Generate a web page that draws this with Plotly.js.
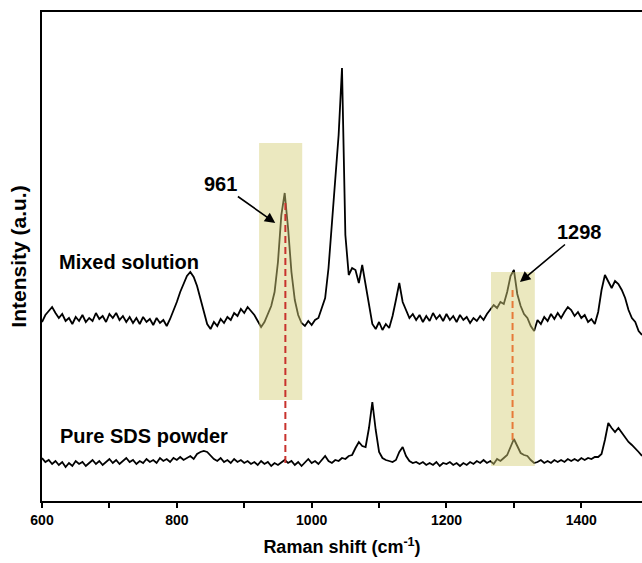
<!DOCTYPE html>
<html>
<head>
<meta charset="utf-8">
<script src="https://cdn.plot.ly/plotly-3.0.1.min.js"></script>
<style>
  html, body { margin: 0; padding: 0; background: #ffffff; }
  #chart { width: 642px; height: 563px; }
</style>
</head>
<body>
<div id="chart"></div>
<script>
// Raman shift (cm-1)
const ramanShift = [
  600,605,610,615,620,625,630,635,640,645,650,655,660,665,670,675,680,685,690,695,
  700,705,710,715,720,725,730,735,740,745,750,755,760,765,770,775,780,785,790,795,
  800,805,810,815,820,825,830,835,840,845,850,855,860,865,870,875,880,885,890,895,
  900,905,910,915,920,925,930,935,940,945,950,955,960,965,970,975,980,985,990,995,
  1000,1005,1010,1015,1020,1025,1030,1035,1040,1045,1050,1055,1060,1065,1070,1075,1080,1085,1090,1095,
  1100,1105,1110,1115,1120,1125,1130,1135,1140,1145,1150,1155,1160,1165,1170,1175,1180,1185,1190,1195,
  1200,1205,1210,1215,1220,1225,1230,1235,1240,1245,1250,1255,1260,1265,1270,1275,1280,1285,1290,1295,
  1300,1305,1310,1315,1320,1325,1330,1335,1340,1345,1350,1355,1360,1365,1370,1375,1380,1385,1390,1395,
  1400,1405,1410,1415,1420,1425,1430,1435,1440,1445,1450,1455,1460,1465,1470,1475,1480,1485,1490
];

// Intensity (a.u., offset) – Mixed solution
const mixedSolution = [
  179,186,190,194,188,183,187,180,183,177,184,180,186,179,183,180,188,182,185,179,
  187,183,188,181,185,179,184,178,183,177,184,179,182,176,183,178,181,175,182,190,
  199,209,218,225,229,224,215,203,189,177,172,179,175,182,178,184,181,188,185,192,
  188,194,190,186,180,174,179,187,195,209,239,286,308,273,229,201,186,178,175,180,
  176,181,183,193,203,233,276,321,366,433,266,226,233,231,218,236,216,193,177,172,
  179,171,177,173,185,201,218,199,191,183,187,181,186,179,185,180,188,182,186,180,
  187,181,185,179,186,181,184,178,183,180,185,181,187,192,196,193,199,197,209,225,
  231,207,195,187,183,175,170,181,177,184,180,187,182,188,183,189,194,191,185,189,
  183,186,179,182,177,189,211,226,219,213,220,217,211,203,191,183,179,170,166
];

// Intensity (a.u., offset) – Pure SDS powder
const pureSDS = [
  43,39,41,37,40,36,39,34,38,35,40,37,39,35,38,41,37,40,36,39,
  42,38,41,37,40,43,39,41,37,40,38,42,39,41,38,43,40,42,39,43,
  41,44,41,43,45,42,47,49,50,49,45,42,40,43,39,41,38,42,39,41,
  38,40,37,39,36,40,37,39,35,38,36,39,41,38,40,36,39,35,39,42,
  38,40,37,41,45,40,38,41,40,43,42,45,46,53,59,55,54,73,99,71,
  49,43,41,40,39,41,49,54,45,40,38,39,37,39,36,38,36,39,35,38,
  37,39,36,38,35,38,36,39,37,40,38,41,38,40,37,42,40,43,46,54,
  62,55,48,46,45,41,38,39,41,38,40,38,41,39,41,39,42,40,42,40,
  43,41,43,42,44,44,47,61,78,73,69,73,68,63,59,56,53,49,45
];

// Highlighted peaks
const peakLabels = ['961', '1298'];
const peakShift = [961, 1298];
const bandFrom = [922, 1266];
const bandTo = [986, 1331];
const bandHigh = [358, 229];
const bandLow = [101, 35];
const guideHigh = [301, 213];
const guideLow = [38, 61];

const seriesNames = ['Mixed solution', 'Pure SDS powder'];
const xTickVals = [600, 800, 1000, 1200, 1400];

const FONT = 'Liberation Sans, Arial, Helvetica, sans-serif';
const guideColors = ['#c8322d', '#e67a3a'];

const traces = [
  { x: ramanShift, y: mixedSolution, name: seriesNames[0], type: 'scatter', mode: 'lines',
    line: { color: '#000000', width: 1.8 }, hoverinfo: 'x+y' },
  { x: ramanShift, y: pureSDS, name: seriesNames[1], type: 'scatter', mode: 'lines',
    line: { color: '#000000', width: 1.8 }, hoverinfo: 'x+y' }
];

const shapes = [];
for (let i = 0; i < peakShift.length; i++) {
  shapes.push({
    type: 'rect', xref: 'x', yref: 'y', layer: 'above',
    x0: bandFrom[i], x1: bandTo[i], y0: bandLow[i], y1: bandHigh[i],
    fillcolor: 'rgba(212,206,119,0.47)', line: { width: 0 }
  });
}
for (let i = 0; i < peakShift.length; i++) {
  shapes.push({
    type: 'line', xref: 'x', yref: 'y', layer: 'above',
    x0: peakShift[i], x1: peakShift[i], y0: guideLow[i], y1: guideHigh[i],
    line: { color: guideColors[i], width: 2, dash: '7px,4px' }
  });
}

const bigFont = { family: FONT, size: 20, color: '#000000', weight: 'bold' };

const annotations = [
  { x: 622, y: 239, xref: 'x', yref: 'y', text: seriesNames[0], showarrow: false,
    xanchor: 'left', yanchor: 'middle', font: bigFont },
  { x: 624, y: 65, xref: 'x', yref: 'y', text: seriesNames[1], showarrow: false,
    xanchor: 'left', yanchor: 'middle', font: bigFont },
  { x: 946, y: 278, xref: 'x', yref: 'y', text: peakLabels[0], showarrow: true,
    ax: -55, ay: -39, arrowhead: 2, arrowsize: 1.3, arrowwidth: 1.6, arrowcolor: '#000000',
    font: bigFont },
  { x: 1309, y: 219, xref: 'x', yref: 'y', text: peakLabels[1], showarrow: true,
    ax: 60, ay: -50, arrowhead: 2, arrowsize: 1.3, arrowwidth: 1.6, arrowcolor: '#000000',
    font: bigFont }
];

const layout = {
  width: 642, height: 563,
  margin: { l: 42, r: 0, t: 12, b: 62, pad: 0 },
  paper_bgcolor: '#ffffff', plot_bgcolor: '#ffffff',
  showlegend: false,
  font: { family: FONT, color: '#000000' },
  xaxis: {
    range: [600, 1490], showgrid: false, zeroline: false,
    showline: true, linecolor: '#000000', linewidth: 2, mirror: true,
    ticks: 'outside', ticklen: 5, tickwidth: 2, tickcolor: '#000000',
    tickvals: xTickVals,
    minor: { dtick: 100, ticks: 'outside', ticklen: 5, tickwidth: 2, tickcolor: '#000000' },
    tickfont: { family: FONT, size: 14, color: '#000000', weight: 'bold' },
    title: { text: 'Raman shift (cm<sup>-1</sup>)', standoff: 14,
      font: { family: FONT, size: 18, color: '#000000', weight: 'bold' } }
  },
  yaxis: {
    range: [0, 489], showgrid: false, zeroline: false,
    showline: true, linecolor: '#000000', linewidth: 2, mirror: false,
    ticks: '', showticklabels: false,
    title: { text: 'Intensity (a.u.)', standoff: 8,
      font: { family: FONT, size: 21, color: '#000000', weight: 'bold' } }
  },
  shapes: shapes,
  annotations: annotations
};

Plotly.newPlot('chart', traces, layout, { displayModeBar: false, staticPlot: true });
</script>
</body>
</html>
